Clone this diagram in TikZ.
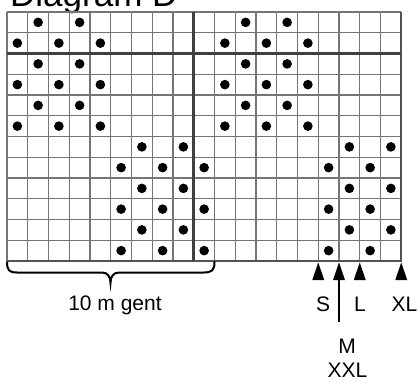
\documentclass[tikz,border=0pt]{standalone}
\usepackage{fontspec}
\setmainfont{Liberation Sans}
\definecolor{thingrid}{HTML}{757575}
\definecolor{thickgrid}{HTML}{404040}
\begin{document}
\begin{tikzpicture}[x=1pt,y=-1pt,
  thinline/.style={draw=thingrid,line width=1.4pt},
  thickline/.style={draw=thickgrid,line width=3.3pt},
  borderline/.style={draw=thickgrid!90,line width=2pt},
  dot/.style={fill=black},
  lbl/.style={inner sep=0pt,anchor=base,font=\fontsize{21}{22}\selectfont},
  tri/.style={fill=black}]
\useasboundingbox (0,0) rectangle (420,383);
\clip (0,0) rectangle (420,383);
\fill[white] (0,0) rectangle (420,383);
% title
\node[inner sep=0pt,anchor=base west,font=\fontsize{35}{36}\selectfont] (title) at (10,6.5) {Diagram D};
% thin grid
\foreach \i in {0,...,19}{
  \draw[thinline] ({7+\i*20.75},12) -- ({7+\i*20.75},261);
}
\foreach \j in {0,...,12}{
  \draw[thinline] (7,{12+\j*20.75}) -- (401.25,{12+\j*20.75});
}
% borders right and bottom
\draw[borderline] (401.25,12) -- (401.25,261.5);
\draw[borderline] (7,261) -- (402.25,261);
% thick dividers
\draw[thickline] ({7+9*20.75},12) -- ({7+9*20.75},261);
\draw[thickline] (7,{12+2*20.75}) -- (401.25,{12+2*20.75});
% dots
\foreach \r in {1,3,5}{\foreach \c in {2,4,12,14}{
  \fill[dot] ({7+(\c-0.5)*20.75},{12+(\r-0.5)*20.75}) circle[radius=4.8pt];}}
\foreach \r in {2,4,6}{\foreach \c in {1,3,5,11,13,15}{
  \fill[dot] ({7+(\c-0.5)*20.75},{12+(\r-0.5)*20.75}) circle[radius=4.8pt];}}
\foreach \r in {7,9,11}{\foreach \c in {7,9,17,19}{
  \fill[dot] ({7+(\c-0.5)*20.75},{12+(\r-0.5)*20.75}) circle[radius=4.8pt];}}
\foreach \r in {8,10,12}{\foreach \c in {6,8,10,16,18}{
  \fill[dot] ({7+(\c-0.5)*20.75},{12+(\r-0.5)*20.75}) circle[radius=4.8pt];}}
% brace
\draw[line width=2pt,line cap=round]
  (7,262) .. controls (7,270) and (9,272.5) .. (17,272.5) -- (102,272.5)
  .. controls (108,272.5) and (110.5,277) .. (110.5,283)
  .. controls (110.5,277) and (113,272.5) .. (119,272.5) -- (204,272.5)
  .. controls (212,272.5) and (214.5,270) .. (214.5,262);
\node[lbl] (gent) at (115,310.7) {10 m gent};
% size arrows
\coordinate (s) at ({7+15*20.75},262.5);
\coordinate (m) at ({7+16*20.75},262.5);
\coordinate (l) at ({7+17*20.75},262.5);
\coordinate (xl) at ({7+19*20.75},262.5);
\foreach \p in {s,m,l,xl}{
  \fill[tri] (\p) -- ++(-6,17.5) -- ++(12,0) -- cycle;
}
\coordinate (mend) at ({7+16*20.75},322);
\draw[line width=2.6pt] ([yshift=-17pt]m) -- (mend);
\node[lbl] (S) at (323,311.7) {S};
\node[lbl] (L) at (360,311.7) {L};
\node[lbl] (XL) at (404.5,311.7) {XL};
\node[lbl] (M) at (347,353) {M};
\node[lbl] (XXL) at (347.5,377) {XXL};
\end{tikzpicture}
\end{document}
